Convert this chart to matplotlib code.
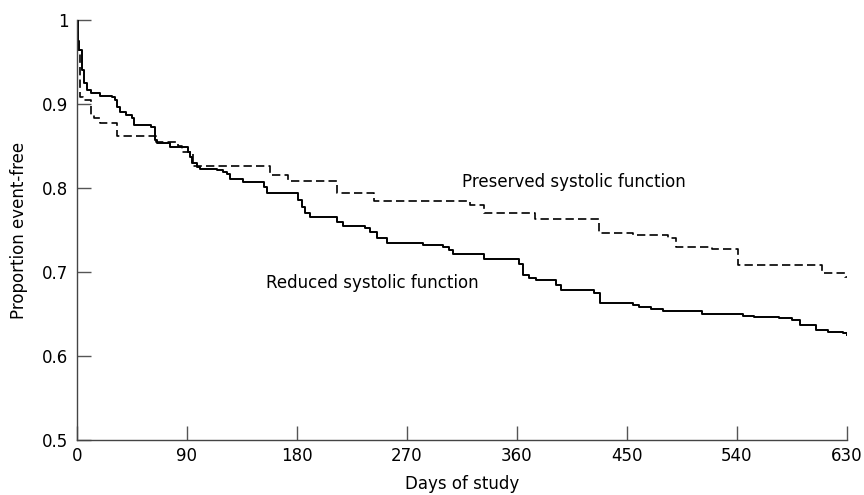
import numpy as np
import matplotlib
matplotlib.use('Agg')
import matplotlib.pyplot as plt

plt.rcParams['font.family'] = ['DejaVu Sans']

# Kaplan-Meier: reduced systolic function (solid)
reduced_days = [0, 1, 2, 4, 6, 8, 12, 19, 29, 31, 33, 35, 40, 45, 47, 61, 64, 66, 76, 91,
                93, 94, 98, 101, 115, 120, 123, 125, 136, 153, 156, 181, 184, 187, 191, 213,
                218, 236, 240, 246, 254, 283, 300, 305, 308, 333, 362, 365, 370, 376, 392,
                396, 423, 428, 455, 460, 470, 480, 512, 545, 554, 575, 585, 592, 605, 615,
                627, 630]
reduced_surv = [1.0, 0.975, 0.964, 0.94, 0.925, 0.917, 0.913, 0.910, 0.908, 0.905, 0.897,
                0.890, 0.887, 0.883, 0.875, 0.873, 0.857, 0.854, 0.849, 0.843, 0.837, 0.830,
                0.825, 0.823, 0.821, 0.819, 0.817, 0.811, 0.807, 0.801, 0.794, 0.786, 0.778,
                0.770, 0.766, 0.760, 0.755, 0.753, 0.748, 0.740, 0.735, 0.732, 0.730, 0.726,
                0.722, 0.716, 0.710, 0.697, 0.693, 0.690, 0.684, 0.679, 0.675, 0.663, 0.661,
                0.658, 0.656, 0.654, 0.650, 0.648, 0.647, 0.645, 0.643, 0.637, 0.631, 0.629,
                0.627, 0.625]

# preserved systolic function (dashed)
preserved_days = [0, 1, 3, 5, 12, 14, 19, 33, 65, 83, 86, 95, 158, 173, 213, 243, 322, 333,
                  375, 427, 455, 484, 490, 520, 541, 610, 629, 630]
preserved_surv = [1.0, 0.964, 0.908, 0.905, 0.887, 0.883, 0.877, 0.862, 0.855, 0.850, 0.843,
                  0.826, 0.815, 0.808, 0.794, 0.785, 0.780, 0.770, 0.763, 0.746, 0.744, 0.740,
                  0.730, 0.728, 0.708, 0.699, 0.694, 0.694]

xticks = [0, 90, 180, 270, 360, 450, 540, 630]
yticks = [0.5, 0.6, 0.7, 0.8, 0.9, 1.0]
ytick_labels = ['0.5', '0.6', '0.7', '0.8', '0.9', '1']

fig = plt.figure(figsize=(8.64, 4.95), dpi=100)
ax = fig.add_axes([0.0888, 0.111, 0.8912, 0.8485])

ax.plot(reduced_days, reduced_surv, drawstyle='steps-post', color='black', lw=1.4)
ax.plot(preserved_days, preserved_surv, drawstyle='steps-post', color='black', lw=1.2,
        dashes=(5, 2.5))

ax.text(315, 0.807, 'Preserved systolic function', fontsize=12, va='center', ha='left')
ax.text(155, 0.687, 'Reduced systolic function', fontsize=12, va='center', ha='left')

ax.set_xlim(0, 630)
ax.set_ylim(0.5, 1.0)
ax.set_xticks(xticks)
ax.set_yticks(yticks)
ax.set_yticklabels(ytick_labels)
for s in ['top', 'right']:
    ax.spines[s].set_visible(False)
for s in ['left', 'bottom']:
    ax.spines[s].set_color('#444444')
    ax.spines[s].set_linewidth(1.0)
ax.tick_params(direction='in', length=10, width=1.0, color='#555555', labelsize=12)
ax.tick_params(axis='y', pad=6)
ax.tick_params(axis='x', pad=5)

ax.set_xlabel('Days of study', fontsize=12)
ax.set_ylabel('Proportion event-free', fontsize=12)
ax.xaxis.set_label_coords(0.5, -0.083)
ax.yaxis.set_label_coords(-0.063, 0.5)

fig.savefig('out.png', dpi=100)
